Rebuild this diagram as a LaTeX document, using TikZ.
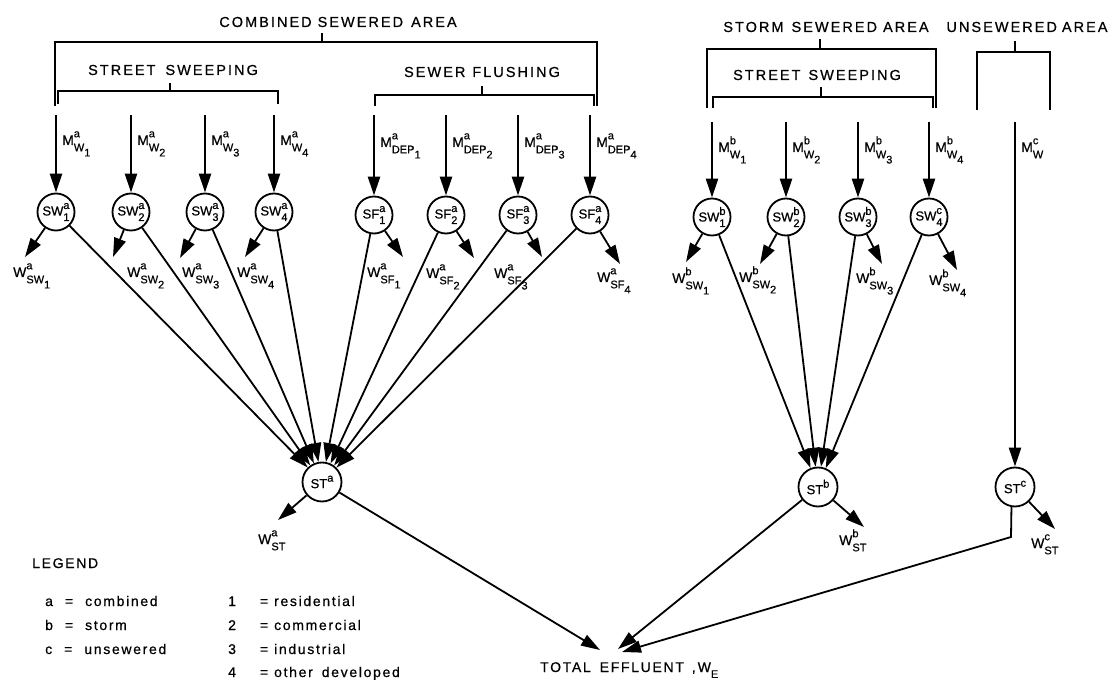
\documentclass[tikz,border=0pt]{standalone}
\usepackage{fontspec}
\setmainfont{Liberation Sans}[FakeBold=0.6]
\usetikzlibrary{arrows.meta}
\newcommand{\sfs}{\fontsize{11}{11}\selectfont}
\newcommand{\lab}[4]{#1\rlap{\raisebox{1.05ex}{\sfs #2}}\raisebox{-0.85ex}{\sfs #3}\raisebox{-1.55ex}{\sfs #4}}
\newcommand{\cir}[3]{#1\rlap{\raisebox{0.95ex}{\sfs #2}}\raisebox{-0.8ex}{\sfs #3}}
\newcommand{\sts}[1]{ST\raisebox{0.95ex}{\sfs #1}}
\tikzset{
  ln/.style={line width=1.8pt},
  brk/.style={line width=2.2pt},
  arr/.style={line width=1.8pt, -{Triangle[length=19pt,width=12pt]}},
  marr/.style={line width=2.3pt, -{Triangle[length=19pt,width=12pt]}},
  circ/.style={circle, draw, line width=1.8pt, minimum size=37pt, inner sep=0pt, font=\fontsize{13}{13}\selectfont},
  lbl/.style={anchor=base west, inner sep=0pt, font=\fontsize{14}{14}\selectfont},
  ttl/.style={inner sep=0pt, font=\fontsize{14.5}{14.5}\selectfont\addfontfeature{LetterSpace=14}},
  leg/.style={anchor=base west, inner sep=0pt, font=\fontsize{14}{14}\selectfont\addfontfeature{LetterSpace=12}},
}
\begin{document}
\begin{tikzpicture}[x=1pt,y=-1pt]
\useasboundingbox (0,0) rectangle (1113,684);
% ---------- titles and brackets ----------
\node[ttl] (tcomb) at (338,22) {COMBINED\hspace{6pt}SEWERED\hspace{8pt}AREA};
\draw[brk] (55,106) |- (597,42) -- (597,106);
\draw[brk] (322,42) -- (322,33);
\node[ttl] (tss1) at (173,70) {STREET\hspace{10pt}SWEEPING};
\draw[brk] (58,104) |- (278,91) -- (278,104);
\draw[brk] (170,91) -- (170,83);
\node[ttl] (tsf) at (482,72) {SEWER\hspace{7pt}FLUSHING};
\draw[brk] (375,106) |- (594,95) -- (594,106);
\draw[brk] (482,95) -- (482,86);
\node[ttl] (tstorm) at (826,27) {STORM\hspace{8pt}SEWERED\hspace{6pt}AREA};
\draw[brk] (707,108) |- (936,49) -- (936,108);
\draw[brk] (820,49) -- (820,39);
\node[ttl] (tss2) at (817,75) {STREET\hspace{8pt}SWEEPING};
\draw[brk] (713,108) |- (933,97) -- (933,108);
\draw[brk] (821,97) -- (821,87);
\node[ttl] (tuns) at (1027,27) {UNSEWERED\hspace{5pt}AREA};
\draw[brk] (977,110) |- (1050,52) -- (1050,110);
\draw[brk] (1015,52) -- (1015,41);
% ---------- process circles ----------
\node[circ] (sw1) at (56,212) {\cir{SW}{a}{1}};
\node[circ] (sw2) at (131,212) {\cir{SW}{a}{2}};
\node[circ] (sw3) at (205,212) {\cir{SW}{a}{3}};
\node[circ] (sw4) at (274,212) {\cir{SW}{a}{4}};
\node[circ] (sf1) at (374,215) {\cir{SF}{a}{1}};
\node[circ] (sf2) at (446,215) {\cir{SF}{a}{2}};
\node[circ] (sf3) at (518,215) {\cir{SF}{a}{3}};
\node[circ] (sf4) at (590,215) {\cir{SF}{a}{4}};
\node[circ] (swb1) at (712,217) {\cir{SW}{b}{1}};
\node[circ] (swb2) at (786,217) {\cir{SW}{b}{2}};
\node[circ] (swb3) at (858,217) {\cir{SW}{b}{3}};
\node[circ] (swb4) at (929,217) {\cir{SW}{c}{4}};
\node[circ, minimum size=39pt] (sta) at (322,482) {\sts{a}};
\node[circ, minimum size=39pt] (stb) at (818,487) {\sts{b}};
\node[circ, minimum size=39pt] (stc) at (1015,487) {\sts{c}};
% ---------- inflow arrows ----------
\foreach \n/\x in {sw1/56,sw2/131,sw3/205,sw4/274,sf1/374,sf2/446,sf3/518,sf4/590}{
  \coordinate (m\n) at (\x,115);
  \draw[marr] (m\n) -- (\n);
}
\foreach \n/\x in {swb1/712,swb2/786,swb3/858,swb4/929}{
  \coordinate (m\n) at (\x,122);
  \draw[marr] (m\n) -- (\n);
}
\coordinate (mc) at (1015,122);
\draw[marr] (mc) -- (stc);
% inflow labels
\node[lbl] (lm1) at (62,145) {\lab{M}{a}{W}{1}};
\node[lbl] (lm2) at (137,145) {\lab{M}{a}{W}{2}};
\node[lbl] (lm3) at (211,145) {\lab{M}{a}{W}{3}};
\node[lbl] (lm4) at (280,145) {\lab{M}{a}{W}{4}};
\node[lbl] (ld1) at (380,147) {\lab{M}{a}{DEP}{1}};
\node[lbl] (ld2) at (452,147) {\lab{M}{a}{DEP}{2}};
\node[lbl] (ld3) at (524,147) {\lab{M}{a}{DEP}{3}};
\node[lbl] (ld4) at (596,147) {\lab{M}{a}{DEP}{4}};
\node[lbl] (lb1) at (718,152) {\lab{M}{b}{W}{1}};
\node[lbl] (lb2) at (792,152) {\lab{M}{b}{W}{2}};
\node[lbl] (lb3) at (864,152) {\lab{M}{b}{W}{3}};
\node[lbl] (lb4) at (935,152) {\lab{M}{b}{W}{4}};
\node[lbl] (lc) at (1021,152) {\lab{M}{c}{W}{}};
% ---------- outflow arrows ----------
\coordinate (o1) at (25,257);
\coordinate (o2) at (113,257);
\coordinate (o3) at (180,258);
\coordinate (o4) at (245,257);
\coordinate (o5) at (403,257);
\coordinate (o6) at (474,258);
\coordinate (o7) at (542,257);
\coordinate (o8) at (620,264);
\coordinate (o9) at (686,262);
\coordinate (o10) at (760,264);
\coordinate (o11) at (882,264);
\coordinate (o12) at (957,270);
\draw[arr] (sw1) -- (o1);
\draw[arr] (sw2) -- (o2);
\draw[arr] (sw3) -- (o3);
\draw[arr] (sw4) -- (o4);
\draw[arr] (sf1) -- (o5);
\draw[arr] (sf2) -- (o6);
\draw[arr] (sf3) -- (o7);
\draw[arr] (sf4) -- (o8);
\draw[arr] (swb1) -- (o9);
\draw[arr] (swb2) -- (o10);
\draw[arr] (swb3) -- (o11);
\draw[arr] (swb4) -- (o12);
% outflow labels
\node[lbl] (w1) at (13,277) {\lab{W}{a}{SW}{1}};
\node[lbl] (w2) at (127,277) {\lab{W}{a}{SW}{2}};
\node[lbl] (w3) at (182,277) {\lab{W}{a}{SW}{3}};
\node[lbl] (w4) at (237,277) {\lab{W}{a}{SW}{4}};
\node[lbl] (w5) at (367,277) {\lab{W}{a}{SF}{1}};
\node[lbl] (w6) at (426,278) {\lab{W}{a}{SF}{2}};
\node[lbl] (w7) at (494,278) {\lab{W}{a}{SF}{3}};
\node[lbl] (w8) at (597,282) {\lab{W}{a}{SF}{4}};
\node[lbl] (w9) at (672,283) {\lab{W}{b}{SW}{1}};
\node[lbl] (w10) at (739,282) {\lab{W}{b}{SW}{2}};
\node[lbl] (w11) at (856,283) {\lab{W}{b}{SW}{3}};
\node[lbl] (w12) at (929,285) {\lab{W}{b}{SW}{4}};
% ---------- flows into storage/treatment ----------
\foreach \n in {sw1,sw2,sw3,sw4,sf1,sf2,sf3,sf4}{
  \draw[arr] (\n) -- (sta);
}
\foreach \n in {swb1,swb2,swb3,swb4}{
  \draw[arr] (\n) -- (stb);
}
% ST outflows
\coordinate (oa) at (278,520);
\coordinate (ob) at (864,527);
\coordinate (oc) at (1055,529);
\draw[arr] (sta) -- (oa);
\draw[arr] (stb) -- (ob);
\draw[arr] (stc) -- (oc);
\node[lbl] (wsta) at (258,544) {\lab{W}{a}{ST}{}};
\node[lbl] (wstb) at (839,545) {\lab{W}{b}{ST}{}};
\node[lbl] (wstc) at (1031,548) {\lab{W}{c}{ST}{}};
% ---------- total effluent ----------
\node[anchor=base west, inner sep=0pt, font=\fontsize{14}{14}\selectfont\addfontfeature{LetterSpace=12}] (te) at (540,672) {TOTAL\hspace{9pt}EFFLUENT\hspace{8pt},\hspace{2pt}W\raisebox{-0.8ex}{\sfs E}};
\coordinate (ta) at (600,650);
\coordinate (tb) at (618,649);
\coordinate (tc) at (622,652);
\coordinate (ck) at (1011,537);
\draw[arr] (sta) -- (ta);
\draw[arr] (stb) -- (tb);
\draw[arr] (stc.-100) -- (ck) -- (tc);
% ---------- legend ----------
\node[leg] (lg) at (32,568) {LEGEND};
\node[leg] (la) at (45,606) {a\hspace{12pt}=\hspace{12pt}combined};
\node[leg] (lbb) at (45,630) {b\hspace{12pt}=\hspace{12pt}storm};
\node[leg] (lcc) at (45,654) {c\hspace{12pt}=\hspace{12pt}unsewered};
\node[leg] (l1) at (228,606) {1\hspace{24pt}=\hspace{6pt}residential};
\node[leg] (l2) at (228,630) {2\hspace{24pt}=\hspace{6pt}commercial};
\node[leg] (l3) at (228,654) {3\hspace{24pt}=\hspace{6pt}industrial};
\node[leg] (l4) at (228,677) {4\hspace{24pt}=\hspace{6pt}other\hspace{9pt}developed};
\end{tikzpicture}
\end{document}
